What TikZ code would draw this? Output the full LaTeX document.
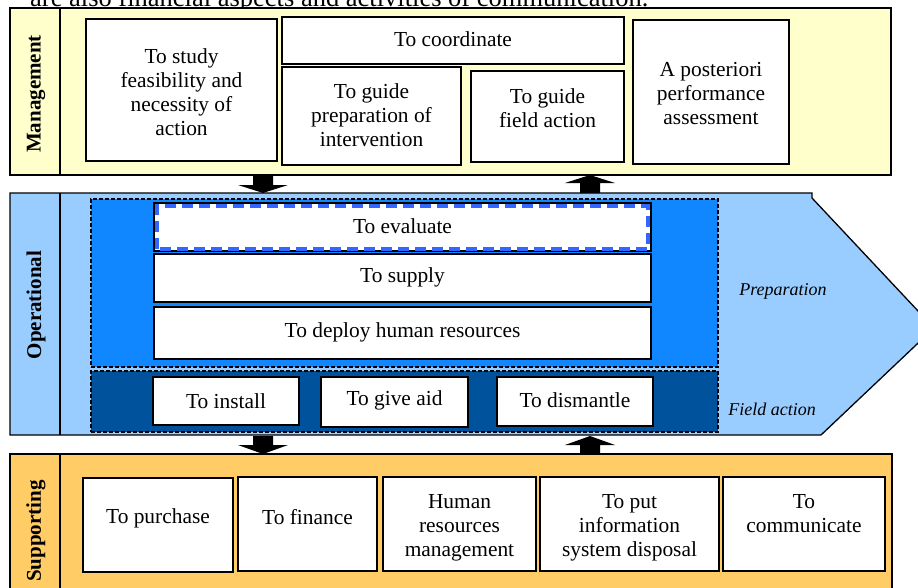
\documentclass[tikz,border=0pt]{standalone}
\usepackage{fontspec}
\setmainfont{Liberation Serif}
\definecolor{mgmtc}{HTML}{FFFFCC}
\definecolor{oplight}{HTML}{99CCFF}
\definecolor{prepc}{HTML}{1187FF}
\definecolor{fieldc}{HTML}{00529C}
\definecolor{suppc}{HTML}{FFCC66}
\definecolor{evalblue}{HTML}{3366FF}
\newcommand\bx[7]{%
  \node[whitebox, minimum width={#4pt-#2pt}, minimum height={#5pt-#3pt}, anchor=north west] (#1) at (#2,#3) {};
  \node[txt] (#1t) at ([yshift=#7pt]#1.center) {#6};}
\begin{document}
\begin{tikzpicture}[x=1pt,y=-1pt,
  whitebox/.style={draw=black, fill=white, line width=1.6pt, inner sep=0pt, outer sep=0pt},
  txt/.style={align=center, inner sep=0pt, font=\fontsize{21.4}{24}\selectfont},
  band/.style={draw=black, line width=1.3pt, inner sep=0pt, outer sep=0pt},
  lab/.style={rotate=90, font=\fontsize{21}{24}\selectfont\bfseries, inner sep=0pt},
  zone/.style={draw=black, dashed, dash pattern=on 4pt off 2pt, line width=1.1pt, inner sep=0pt, outer sep=0pt},
  itl/.style={font=\fontsize{18}{20}\selectfont\itshape, inner sep=0pt},
  blockarrow/.style={fill=black, draw=none}]
\useasboundingbox (0,0) rectangle (918,587);

% cropped caption text at the top
\node[anchor=base west, inner sep=0pt, font=\fontsize{26.5}{30}\selectfont] (cap) at (30,6) {are also financial aspects and activities of communication.};

% ---------------- Management band
\node[band, fill=mgmtc, minimum width=881pt, minimum height=167pt, anchor=north west] (mgmt) at (10,8) {};
\draw[line width=1.3pt] (60,8) -- (60,175);
\node[lab] (mgmtl) at (36,94) {Management};
\bx{study}{86}{19}{277}{161}{To study\\feasibility and\\necessity of\\action}{-2}
\bx{coord}{282}{17}{624}{64}{To coordinate}{1}
\bx{guideprep}{282}{67}{461}{165}{To guide\\preparation of\\intervention}{1}
\bx{guidefield}{471}{71}{624}{162}{To guide\\field action}{8}
\bx{post}{633}{20}{789}{164}{A posteriori\\performance\\assessment}{-2}

% ---------------- Operational band
\coordinate (o1) at (10,193);
\coordinate (o2) at (812,193);
\coordinate (o3) at (812,198);
\coordinate (o4) at (934,328);
\coordinate (o5) at (821,435);
\coordinate (o6) at (10,435);
\fill[oplight] (o1) -- (o2) -- (o3) -- (o4) -- (o5) -- (o6) -- cycle;
\draw[line width=1.3pt] (o5) -- (o6) -- (o1) -- (o2) -- (o3) -- (o4) -- (o5);
\draw[line width=1.3pt] (60,193) -- (60,435);
\node[lab] (opl) at (36,305) {Operational};

\node[zone, fill=prepc, minimum width=627pt, minimum height=168pt, anchor=north west] (prep) at (91,199) {};
\node[zone, fill=fieldc, minimum width=627pt, minimum height=61pt, anchor=north west] (field) at (91,371) {};

\bx{evaluate}{154}{203}{651}{251}{To evaluate}{1}
\draw[evalblue, line width=4pt, dash pattern=on 11pt off 6pt] (157,249) -- (157,206) -- (648,206) -- (648,249) -- cycle;
\bx{supply}{154}{254}{651}{302}{To supply}{1}
\bx{deploy}{154}{307}{651}{359}{To deploy human resources}{1}
\bx{install}{153}{377}{299}{425}{To install}{0}
\bx{giveaid}{321}{377}{468}{427}{To give aid}{2}
\bx{dismantle}{497}{377}{653}{426}{To dismantle}{1}

\node[itl] (prepl) at (783,291) {Preparation};
\node[itl] (fieldl) at (772,409) {Field action};

% ---------------- Supporting band
\node[band, fill=suppc, minimum width=882pt, minimum height=160pt, anchor=north west] (supp) at (10,454) {};
\draw[line width=1.3pt] (60,454) -- (60,600);
\node[lab] (suppl) at (36,531) {Supporting};
\bx{purchase}{83}{478}{233}{572}{To purchase}{7}
\bx{finance}{238}{477}{377}{571}{To finance}{7}
\bx{hrm}{383}{477}{536}{571}{Human\\resources\\management}{-4}
\bx{infosys}{540}{477}{719}{571}{To put\\information\\system disposal}{-4}
\bx{commun}{723}{477}{885}{571}{To\\communicate}{10}

% ---------------- block arrows
\fill[blockarrow] (253,176) -- (273,176) -- (273,185) -- (288,185) -- (263,193) -- (238,185) -- (253,185) -- cycle;
\fill[blockarrow] (580,193) -- (600,193) -- (600,183) -- (615,183) -- (590,175) -- (565,183) -- (580,183) -- cycle;
\fill[blockarrow] (253,436) -- (273,436) -- (273,445) -- (288,445) -- (263,454) -- (238,445) -- (253,445) -- cycle;
\fill[blockarrow] (580,454) -- (600,454) -- (600,445) -- (615,445) -- (590,436) -- (565,445) -- (580,445) -- cycle;
\end{tikzpicture}
\end{document}
